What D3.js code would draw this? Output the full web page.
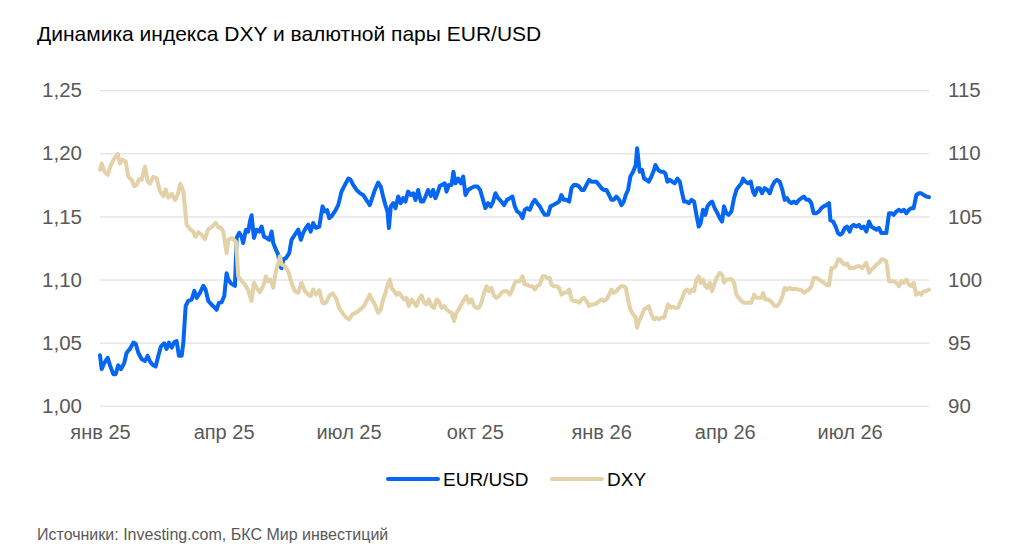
<!DOCTYPE html>
<html>
<head>
<meta charset="utf-8">
<script src="https://cdn.jsdelivr.net/npm/d3@7"></script>
<style>
  html, body { margin: 0; padding: 0; background: #fff; }
  svg { display: block; font-family: "Liberation Sans", Arial, sans-serif; }
</style>
</head>
<body>
<div id="chart"></div>
<script>
// --- data: [days since 1 Jan 2025, value] ---
const startDate = Date.UTC(2025, 0, 1);
const lastDay = 603.8;

const eurUsd = [
  [0,1.040],[1.2,1.029],[3.2,1.034],[5.6,1.038],[7.3,1.032],[9.7,1.025],[11.4,1.025],[13.3,1.032],[15.3,1.029],[17.7,1.034],
  [19.4,1.042],[21.8,1.045],[24.3,1.050],[26.0,1.049],[27.9,1.042],[30.3,1.037],[32.8,1.0355],[34.7,1.0395],[36.4,1.035],[38.8,1.032],
  [40.5,1.031],[42.5,1.0395],[44.4,1.047],[46.8,1.0495],[48.5,1.045],[50.2,1.050],[52.2,1.046],[54.1,1.0505],[55.8,1.0513],[57.5,1.0395],
  [59.5,1.0395],[60.7,1.050],[62.4,1.079],[64.3,1.083],[66.7,1.084],[68.7,1.091],[70.4,1.0855],[72.8,1.0895],[75.2,1.095],[76.9,1.092],
  [78.9,1.083],[81.3,1.080],[83.7,1.0776],[84.9,1.076],[86.6,1.0815],[88.6,1.082],[90.5,1.087],[92.2,1.105],[93.4,1.100],[95.4,1.097],
  [98.3,1.095],[99.5,1.133],[101.4,1.137],[103.1,1.134],[104.3,1.129],[106.3,1.1395],[108.0,1.138],[109.2,1.146],[110.4,1.151],[112.1,1.133],
  [114.0,1.1395],[116.0,1.138],[117.7,1.142],[119.4,1.134],[121.3,1.133],[123.3,1.1315],[125.0,1.138],[126.2,1.129],[128.1,1.1237],[129.8,1.1197],
  [131.0,1.1105],[132.3,1.109],[133.5,1.116],[135.4,1.117],[137.8,1.121],[139.5,1.1315],[141.9,1.1355],[144.4,1.1395],[146.3,1.1315],[148.0,1.137],
  [150.0,1.141],[151.7,1.1435],[153.4,1.138],[155.3,1.1447],[157.2,1.141],[159.7,1.142],[162.1,1.158],[163.8,1.154],[165.5,1.155],[166.9,1.1487],
  [168.6,1.150],[171.1,1.154],[173.5,1.159],[175.9,1.1697],[178.4,1.175],[180.8,1.180],[182.5,1.179],[184.4,1.175],[186.9,1.171],[189.3,1.1685],
  [191.7,1.167],[194.1,1.163],[196.5,1.159],[198.2,1.1645],[200.2,1.171],[202.6,1.1768],[204.5,1.1737],[206.2,1.1658],[207.9,1.159],[209.4,1.154],
  [210.4,1.1408],[211.8,1.158],[213.5,1.1605],[215.2,1.1566],[217.2,1.1658],[219.1,1.1605],[220.8,1.1645],[222.5,1.1618],[224.4,1.1697],[226.4,1.167],
  [228.1,1.1684],[229.8,1.163],[231.7,1.171],[233.7,1.1618],[235.4,1.1618],[237.1,1.1658],[239.0,1.171],[241.0,1.1663],[242.6,1.171],[244.3,1.1645],
  [245.8,1.1684],[247.5,1.1742],[249.2,1.175],[251.1,1.1763],[252.4,1.1697],[254.1,1.175],[256.0,1.175],[257.4,1.1855],[258.9,1.1763],[260.8,1.180],
  [262.8,1.1763],[264.5,1.1816],[266.2,1.167],[268.1,1.171],[270.1,1.1724],[272.5,1.1737],[274.9,1.1737],[276.9,1.171],[279.0,1.163],[280.7,1.1566],
  [282.7,1.1605],[284.6,1.158],[286.3,1.1618],[288.0,1.1684],[290.0,1.1645],[292.4,1.1618],[294.3,1.159],[296.5,1.1632],[298.5,1.1645],[300.4,1.1658],
  [302.1,1.158],[303.8,1.154],[305.8,1.1526],[307.7,1.1487],[309.4,1.1553],[311.1,1.1566],[313.0,1.1553],[315.0,1.1605],[316.7,1.1632],[318.4,1.1605],
  [320.3,1.158],[322.3,1.154],[324.0,1.1513],[326.4,1.1513],[328.1,1.158],[330.0,1.159],[332.5,1.1605],[334.4,1.1618],[336.1,1.167],[337.8,1.1632],
  [339.7,1.1632],[341.7,1.1618],[343.4,1.1724],[345.1,1.175],[347.0,1.175],[349.0,1.1737],[350.7,1.171],[352.4,1.171],[354.3,1.175],[356.2,1.179],
  [357.9,1.1776],[359.6,1.1776],[361.6,1.1776],[363.5,1.175],[365.2,1.1724],[366.9,1.171],[368.9,1.171],[370.8,1.167],[372.5,1.1632],[374.2,1.1632],
  [376.1,1.1658],[378.1,1.1632],[379.8,1.159],[381.5,1.1618],[382.9,1.167],[384.6,1.171],[386.3,1.1816],[388.3,1.1855],[390.2,1.1908],[391.2,1.204],
  [393.1,1.1855],[394.8,1.187],[396.3,1.180],[398.0,1.179],[399.7,1.1776],[401.6,1.1816],[403.6,1.187],[404.5,1.1908],[406.5,1.187],[408.4,1.1855],
  [410.1,1.1855],[411.8,1.184],[413.3,1.1776],[415.0,1.179],[416.7,1.1776],[418.6,1.1763],[420.6,1.180],[422.3,1.1776],[423.5,1.171],[425.4,1.1618],
  [427.1,1.1618],[428.8,1.1605],[430.8,1.1632],[432.7,1.1618],[434.4,1.1513],[436.1,1.142],[437.5,1.1447],[439.2,1.1553],[440.9,1.1513],[442.4,1.158],
  [444.1,1.1605],[445.8,1.1618],[447.7,1.1566],[449.7,1.1526],[451.4,1.1487],[453.1,1.146],[454.5,1.158],[456.2,1.1526],[457.9,1.1513],[459.9,1.154],
  [461.8,1.1645],[463.5,1.171],[465.2,1.1737],[467.2,1.1763],[468.4,1.180],[470.1,1.1776],[472.0,1.1763],[474.0,1.1776],[475.6,1.1697],[476.9,1.167],
  [478.8,1.1724],[480.5,1.1724],[482.2,1.1684],[484.1,1.1724],[486.1,1.171],[487.8,1.1684],[489.5,1.1737],[491.4,1.1776],[493.1,1.179],[495.1,1.1776],
  [497.0,1.171],[498.7,1.1632],[500.4,1.1645],[501.9,1.1618],[503.6,1.1605],[505.3,1.1618],[507.2,1.1605],[509.2,1.1632],[510.9,1.1645],[512.6,1.1658],
  [514.5,1.1632],[516.4,1.1632],[518.1,1.1605],[519.8,1.1526],[521.8,1.1526],[523.7,1.154],[525.4,1.1566],[527.1,1.158],[529.1,1.159],[531.0,1.1605],
  [532.0,1.147],[533.9,1.146],[535.8,1.142],[537.5,1.1368],[539.2,1.1355],[540.7,1.1368],[542.4,1.1408],[544.1,1.142],[546.0,1.138],[547.3,1.142],
  [549.0,1.1434],[550.9,1.142],[552.8,1.1434],[554.5,1.1408],[556.2,1.142],[558.2,1.138],[560.1,1.146],[561.8,1.142],[563.5,1.1408],[565.5,1.1395],
  [567.4,1.1408],[569.1,1.1368],[570.8,1.1368],[572.7,1.1368],[574.7,1.1526],[576.4,1.1526],[578.1,1.1513],[580.0,1.154],[582.0,1.1553],[583.7,1.154],
  [585.4,1.1553],[587.3,1.1526],[589.2,1.1553],[590.9,1.1566],[592.6,1.1566],[594.6,1.167],[596.5,1.1684],[598.2,1.1684],[599.9,1.167],[601.8,1.1658],
  [603.8,1.1653]
];

const dxy = [
  [0,108.7],[1.2,109.2],[3.2,108.55],[5.6,108.3],[8.0,109.1],[10.4,109.6],[12.9,109.95],[14.6,109.2],[16.3,109.5],[18.7,109.35],
  [20.6,108.15],[23.1,107.9],[25.0,107.4],[26.7,107.5],[28.4,107.95],[30.3,107.9],[32.8,108.95],[34.7,107.75],[36.4,107.6],[38.8,108.15],
  [41.3,108.0],[43.7,107.0],[46.1,106.6],[47.8,107.15],[49.7,106.5],[52.2,106.8],[54.6,106.3],[56.5,106.7],[58.5,107.6],[60.7,107.0],
  [63.1,104.35],[65.5,104.0],[67.9,103.8],[69.6,103.4],[71.6,103.75],[74.0,103.55],[76.4,103.2],[78.9,104.0],[81.3,104.15],[84.2,104.5],
  [86.1,104.15],[88.1,104.1],[89.8,103.8],[92.2,102.1],[93.4,103.15],[95.9,103.3],[99.0,103.0],[100.7,100.25],[102.4,100.0],[104.3,99.75],
  [106.3,99.5],[108.0,99.1],[110.4,98.3],[112.1,99.75],[114.0,99.35],[116.5,99.0],[118.9,99.5],[120.8,100.25],[122.5,99.85],[124.2,100.0],
  [126.2,99.35],[128.1,100.65],[129.8,101.3],[131.0,101.85],[132.3,101.2],[134.7,101.05],[137.1,100.65],[139.5,99.75],[141.9,99.1],[144.4,98.95],
  [146.8,99.75],[149.2,99.1],[151.7,98.8],[153.4,98.7],[155.3,99.2],[157.2,98.8],[159.7,99.15],[162.1,98.15],[164.5,98.15],[167.0,98.7],
  [169.4,98.9],[171.8,98.55],[174.2,97.75],[177.2,97.25],[179.6,96.95],[181.5,96.85],[183.9,97.25],[186.9,97.4],[189.8,97.65],[192.2,97.9],
  [194.6,98.4],[196.5,98.8],[198.2,98.4],[200.2,98.03],[202.6,97.37],[204.5,97.63],[206.2,98.4],[207.9,98.95],[209.9,99.74],[211.1,100.0],
  [212.3,99.34],[214.3,99.08],[215.9,98.8],[217.6,98.95],[219.6,98.68],[221.5,98.42],[223.2,98.55],[224.9,97.9],[226.9,98.42],[228.8,98.16],
  [230.5,97.9],[232.2,98.42],[234.2,98.74],[236.1,98.16],[237.8,98.03],[239.5,98.42],[241.4,97.9],[243.4,97.76],[245.1,98.42],[246.8,98.29],
  [248.7,97.76],[250.7,97.9],[252.4,97.63],[254.1,97.5],[256.0,97.37],[257.9,96.71],[259.6,97.37],[261.3,97.63],[263.3,98.03],[265.2,98.42],
  [266.9,98.68],[268.6,98.16],[270.6,98.42],[272.5,97.9],[274.2,97.76],[275.9,97.76],[277.8,98.16],[279.8,98.95],[281.5,99.47],[283.2,99.08],
  [285.1,99.34],[287.1,98.68],[288.8,98.55],[290.5,98.68],[292.4,98.95],[294.3,99.08],[296.5,99.08],[298.5,98.8],[300.4,99.21],[302.1,99.74],
  [303.8,99.87],[305.8,99.87],[307.7,100.26],[309.4,99.6],[311.1,99.6],[313.0,99.47],[315.0,99.47],[316.7,99.21],[318.4,99.47],[320.3,99.6],
  [322.3,100.26],[324.0,100.26],[325.7,100.13],[327.6,100.13],[328.8,99.6],[330.5,99.47],[332.5,99.47],[334.4,99.34],[336.1,98.8],[337.8,98.95],
  [339.7,98.95],[341.7,99.21],[343.4,98.42],[345.1,98.29],[347.0,98.29],[349.0,98.16],[350.7,98.42],[352.4,98.55],[354.3,98.29],[356.2,97.9],
  [357.9,98.03],[359.6,98.03],[361.6,98.1],[363.5,98.29],[365.2,98.42],[366.9,98.29],[368.9,98.42],[370.8,98.8],[372.5,99.21],[374.2,98.95],
  [376.1,99.08],[378.1,99.34],[379.8,99.47],[381.5,99.47],[382.9,99.34],[384.6,98.42],[386.3,97.63],[388.3,97.24],[390.2,96.97],[391.2,96.18],
  [392.6,96.71],[394.4,97.11],[396.3,97.63],[398.0,97.76],[399.7,97.9],[401.6,97.24],[403.6,96.84],[405.3,96.97],[407.0,96.84],[408.9,96.97],
  [410.9,96.97],[412.6,97.63],[413.8,98.03],[415.7,97.76],[417.4,97.84],[419.1,97.76],[421.0,97.76],[423.0,98.29],[424.7,98.68],[425.9,99.08],
  [427.8,99.21],[429.5,98.95],[431.2,99.21],[432.7,99.08],[434.4,100.0],[436.1,100.26],[437.5,99.74],[439.2,100.0],[440.9,99.47],[442.4,99.34],
  [444.1,99.74],[445.8,99.08],[447.7,99.74],[449.7,100.26],[451.4,100.53],[453.1,100.39],[454.5,99.74],[456.2,100.0],[457.9,100.0],[459.9,100.05],
  [461.8,99.74],[463.5,98.8],[465.2,98.55],[467.2,98.29],[469.1,98.16],[470.8,98.16],[472.5,98.16],[474.4,98.16],[476.4,98.8],[478.1,98.55],
  [479.8,98.55],[481.7,98.55],[482.9,98.95],[484.6,98.42],[486.6,98.42],[488.5,98.29],[491.4,97.9],[493.1,97.9],[495.1,98.16],[497.0,98.68],
  [498.7,99.34],[500.4,99.21],[502.4,99.34],[504.3,99.21],[506.0,99.26],[508.4,99.21],[510.9,99.16],[512.6,98.95],[514.5,99.08],[516.4,99.21],
  [518.1,99.47],[519.8,100.13],[521.8,100.13],[523.7,100.0],[525.4,99.87],[527.1,99.74],[529.1,99.6],[531.0,99.53],[532.7,100.92],[534.4,100.92],
  [535.8,101.05],[537.5,101.58],[539.2,101.58],[540.7,101.32],[542.4,101.18],[544.1,101.26],[546.0,100.92],[548.0,100.92],[549.7,100.92],[551.4,101.05],
  [553.3,101.05],[555.3,100.92],[557.0,101.18],[558.2,101.32],[560.1,100.53],[561.8,100.79],[563.5,100.92],[565.5,101.18],[567.4,101.32],[569.1,101.58],
  [570.8,101.58],[572.7,101.45],[574.7,99.87],[576.4,99.87],[578.1,99.87],[580.0,99.74],[582.0,99.47],[583.7,99.87],[585.4,99.74],[587.3,100.0],
  [589.2,99.6],[590.9,99.47],[592.6,99.74],[594.6,98.8],[596.5,98.95],[598.2,98.8],[599.9,99.08],[601.8,99.08],[603.8,99.21]
];

const xTickDates = ["2025-01-01", "2025-04-01", "2025-07-01", "2025-10-01", "2026-01-01", "2026-04-01", "2026-07-01"];
const xTickLabels = ["янв 25", "апр 25", "июл 25", "окт 25", "янв 26", "апр 26", "июл 26"];
const leftTicks = [1.00, 1.05, 1.10, 1.15, 1.20, 1.25];
const rightTicks = [90, 95, 100, 105, 110, 115];
const seriesNames = ["EUR/USD", "DXY"];

const title = "Динамика индекса DXY и валютной пары EUR/USD";
const source = "Источники: Investing.com, БКС Мир инвестиций";

// --- layout ---
const W = 1024, H = 554;
const plot = { left: 100, right: 929, top: 90.3, bottom: 405.7 };
const blue = "#0466f2", tan = "#e3d1a7";

const toDate = d => new Date(startDate + d * 864e5);

const svg = d3.select("#chart").append("svg")
    .attr("width", W)
    .attr("height", H);

const x = d3.scaleUtc()
    .domain([toDate(0), toDate(lastDay)])
    .range([plot.left, plot.right]);

const yLeft = d3.scaleLinear()
    .domain([1.00, 1.25])
    .range([plot.bottom, plot.top]);

const yRight = d3.scaleLinear()
    .domain([90, 115])
    .range([plot.bottom, plot.top]);

// gridlines
svg.append("g")
    .attr("transform", `translate(${plot.left},0)`)
    .call(d3.axisRight(yLeft).tickValues(leftTicks).tickSize(plot.right - plot.left).tickFormat(""))
    .call(g => g.select(".domain").remove())
    .call(g => g.selectAll("line").attr("stroke", "#d9d9d9").attr("stroke-width", 1));

// left axis
svg.append("g")
    .attr("transform", "translate(82,0)")
    .call(d3.axisLeft(yLeft).tickValues(leftTicks).tickSize(0).tickPadding(0)
        .tickFormat(d => d.toFixed(2).replace(".", ",")))
    .call(g => g.select(".domain").remove())
    .call(g => g.selectAll("text")
        .attr("fill", "#595959")
        .style("font-family", "Liberation Sans, Arial, sans-serif")
        .style("font-size", "20.5px"));

// right axis
svg.append("g")
    .attr("transform", "translate(948,0)")
    .call(d3.axisRight(yRight).tickValues(rightTicks).tickSize(0).tickPadding(0))
    .call(g => g.select(".domain").remove())
    .call(g => g.selectAll("text")
        .attr("fill", "#595959")
        .style("font-family", "Liberation Sans, Arial, sans-serif")
        .style("font-size", "20.5px"));

// x axis
const xTicks = xTickDates.map(d3.utcParse("%Y-%m-%d"));
svg.append("g")
    .attr("transform", `translate(0,${plot.bottom})`)
    .call(d3.axisBottom(x).tickValues(xTicks).tickSize(0).tickPadding(19.5)
        .tickFormat((d, i) => xTickLabels[i]))
    .call(g => g.select(".domain").remove())
    .call(g => g.selectAll("text")
        .attr("fill", "#595959")
        .style("font-family", "Liberation Sans, Arial, sans-serif")
        .style("font-size", "20px"));

// lines
const eurLine = d3.line()
    .x(d => x(toDate(d[0])))
    .y(d => yLeft(d[1]));

const dxyLine = d3.line()
    .x(d => x(toDate(d[0])))
    .y(d => yRight(d[1]));

svg.append("path")
    .datum(eurUsd)
    .attr("d", eurLine)
    .attr("fill", "none")
    .attr("stroke", blue)
    .attr("stroke-width", 4)
    .attr("stroke-linejoin", "round")
    .attr("stroke-linecap", "round");

svg.append("path")
    .datum(dxy)
    .attr("d", dxyLine)
    .attr("fill", "none")
    .attr("stroke", tan)
    .attr("stroke-width", 4)
    .attr("stroke-linejoin", "round")
    .attr("stroke-linecap", "round");

// title
svg.append("text")
    .attr("x", 37)
    .attr("y", 41)
    .attr("fill", "#000")
    .style("font-size", "21px")
    .text(title);

// legend
const legend = svg.append("g").attr("transform", "translate(0,479)");
const legendItems = [
  { name: seriesNames[0], color: blue, x: 388 },
  { name: seriesNames[1], color: tan, x: 552 }
];
legendItems.forEach(item => {
  legend.append("line")
      .attr("x1", item.x).attr("x2", item.x + 50)
      .attr("y1", 0).attr("y2", 0)
      .attr("stroke", item.color)
      .attr("stroke-width", 4)
      .attr("stroke-linecap", "round");
  legend.append("text")
      .attr("x", item.x + 55)
      .attr("y", 0)
      .attr("dy", "0.35em")
      .attr("fill", "#000")
      .style("font-size", "19px")
      .text(item.name);
});

// source note
svg.append("text")
    .attr("x", 37)
    .attr("y", 540)
    .attr("fill", "#595959")
    .style("font-size", "16px")
    .text(source);
</script>
</body>
</html>
